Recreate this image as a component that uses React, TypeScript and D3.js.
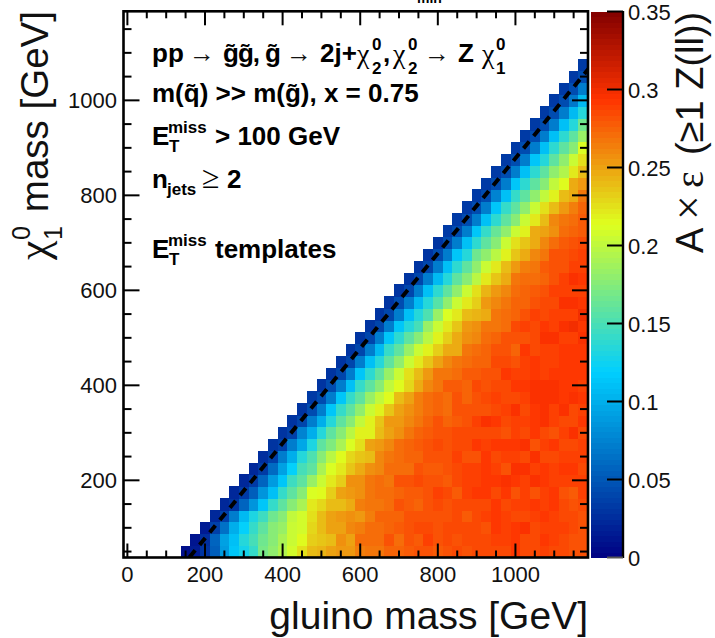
import React from "react";
import * as d3 from "d3";

// Acceptance x efficiency per chi mass row; each row starts on the diagonal and runs to gluino mass 1175.
const row00 = [8,15,28,55,88,112,128,142,168,180,195,208,225,240,242,250,252,255,265,268,268,273,276,279,280,280,279,280,284,280,285,286,286,286,291,285,286,288,285,286,283,282];
const row01 = [12,25,58,92,110,135,150,165,178,190,205,215,232,236,240,258,250,270,270,270,280,270,283,279,287,282,284,282,285,286,286,288,288,291,286,286,291,287,285,283,283];
const row02 = [15,38,65,98,120,142,160,175,185,205,208,228,240,250,250,262,265,272,270,273,279,280,286,285,282,284,286,286,285,282,291,287,293,294,286,288,289,287,285,282];
const row03 = [22,35,72,105,130,145,165,178,200,208,225,238,250,252,258,255,263,274,274,276,280,280,282,282,282,285,279,286,287,291,287,286,286,287,291,287,286,284,283];
const row04 = [22,30,58,85,115,140,160,175,190,222,228,240,240,245,263,268,268,270,283,278,276,283,285,283,285,285,285,286,291,286,287,287,291,288,291,286,282,285];
const row05 = [22,32,55,85,110,140,158,175,210,215,232,250,252,258,266,270,270,276,278,278,282,289,285,279,288,292,292,286,292,282,288,283,288,291,280,279,287];
const row06 = [22,32,58,90,115,145,160,185,205,222,232,256,256,268,272,268,280,280,286,283,280,279,286,289,287,293,293,294,291,288,294,291,287,287,287,287];
const row07 = [24,33,62,92,120,150,160,190,212,222,235,248,256,262,270,272,272,283,279,279,281,285,288,287,291,289,283,294,294,287,292,288,291,293,286];
const row08 = [26,35,70,98,135,152,175,198,215,230,235,240,260,266,270,274,276,282,282,281,287,282,281,291,286,287,289,286,294,286,286,287,287,287];
const row09 = [28,38,72,95,130,160,172,192,212,226,250,255,262,272,276,279,281,286,282,285,285,291,288,292,291,291,295,283,289,292,286,286,288];
const row10 = [28,38,75,100,135,158,175,198,218,220,240,250,258,268,274,279,283,280,284,285,285,285,286,280,289,284,292,285,282,289,294,286];
const row11 = [30,40,70,100,135,160,178,200,220,236,252,255,262,266,276,280,276,278,283,288,294,292,286,287,288,291,295,287,286,286,292];
const row12 = [30,42,72,115,140,160,180,205,218,235,250,258,265,272,274,270,280,283,283,282,285,288,296,286,291,294,288,296,286,288];
const row13 = [32,42,72,112,140,158,182,202,215,238,250,265,270,274,272,280,274,283,286,288,286,286,289,294,294,294,291,295,292];
const row14 = [30,42,72,110,140,160,178,200,215,230,248,262,268,278,278,276,285,283,286,286,291,291,294,296,296,292,291,289];
const row15 = [30,40,70,112,138,160,182,205,225,238,252,266,268,271,278,278,282,282,291,288,289,293,288,291,292,291,291];
const row16 = [30,40,72,110,135,160,180,205,222,235,250,262,266,270,276,276,286,286,280,289,293,287,289,291,292,292];
const row17 = [30,40,70,108,140,158,182,205,218,232,245,248,266,270,276,280,283,276,291,285,288,289,291,292,292];
const row18 = [30,40,72,112,138,158,178,198,220,232,248,258,260,272,273,281,283,283,285,295,295,289,289,295];
const row19 = [30,40,72,112,135,150,182,205,222,235,252,256,268,268,272,285,289,286,291,287,295,298,292];
const row20 = [30,40,72,110,135,152,185,210,222,240,243,248,268,272,276,280,288,286,287,287,288,298];
const row21 = [30,42,72,108,135,155,180,205,222,232,252,262,268,274,276,282,286,286,295,295,293];
const row22 = [30,40,72,110,138,160,180,205,225,242,252,262,270,273,278,283,287,287,288,289];
const row23 = [30,40,72,108,135,160,178,198,222,235,248,268,270,271,276,280,288,294,293];
const row24 = [30,40,72,110,138,160,180,205,222,238,255,265,268,279,282,283,287,289];
const row25 = [30,42,72,112,135,165,180,198,220,235,245,262,268,280,283,286,288];
const row26 = [30,42,72,110,138,160,178,203,225,235,245,262,272,279,283,285];
const row27 = [32,42,72,112,140,162,180,205,218,245,250,258,272,276,279];
const row28 = [32,42,72,110,138,160,178,205,222,238,262,268,272,279];
const row29 = [32,42,72,112,140,160,180,205,225,240,255,265,276];
const row30 = [32,42,75,110,140,158,180,200,220,238,248,268];
const row31 = [32,42,72,112,138,158,178,200,215,245,252];
const row32 = [32,42,72,110,138,158,180,195,222,240];
const row33 = [32,42,72,112,135,160,180,205,225];
const row34 = [32,42,72,110,138,158,178,210];
const row35 = [32,42,72,110,138,160,185];
const row36 = [32,42,72,110,135,165];
const row37 = [32,42,72,105,135];
const row38 = [32,42,68,105];
const row39 = [32,42,70];
const row40 = [32,42];
const row41 = [32];
const efficiencyRows = [row00,row01,row02,row03,row04,row05,row06,row07,row08,row09,row10,row11,row12,row13,row14,row15,row16,row17,row18,row19,row20,row21,row22,row23,row24,row25,row26,row27,row28,row29,row30,row31,row32,row33,row34,row35,row36,row37,row38,row39,row40,row41];

const xTickLabels = [0, 200, 400, 600, 800, 1000];
const yTickLabels = [200, 400, 600, 800, 1000];
const zTickLabels = ["0", "0.05", "0.1", "0.15", "0.2", "0.25", "0.3", "0.35"];
const dashedLineMg = [160, 1190];
const dashedLineLsp = [38, 1068];
const paletteStops = [0, 0.34, 0.61, 0.84, 1];
const paletteColors = ["rgb(0,0,130)", "rgb(0,207,255)", "rgb(222,255,31)", "rgb(255,51,0)", "rgb(130,0,0)"];

const FONT = "'Liberation Sans', Arial, sans-serif";
const SERIF = "'Liberation Serif', serif";
const L = 123.5, R = 588, T = 11.3, B = 557.5;
const x = d3.scaleLinear().domain([-10, 1187]).range([L, R]);
const y = d3.scaleLinear().domain([37.5, 1187.5]).range([B, T]);
const z = d3.scaleLinear().domain([0, 0.35]).range([557.5, 11.5]);
const palette = d3.scaleLinear<string>().domain(paletteStops).range(paletteColors).interpolate(d3.interpolateRgb.gamma(1)).clamp(true);
const LEVELS = 100;
const colour = (v: number) => palette((Math.floor(Math.min(v / 0.35, 0.9999) * LEVELS) + 0.5) / LEVELS);

const dashed = d3.line<number>().x((m) => x(m)).y((_, i) => y(dashedLineLsp[i]));

const Bold: React.FC<{ x: number; y: number; s?: number; ls?: number; children: React.ReactNode }> = ({ x, y, s = 26, ls, children }) => (
  <text x={x} y={y} fontSize={s} fontWeight="bold" fontFamily={FONT} fill="#000" letterSpacing={ls}>{children}</text>
);
const Sym: React.FC<{ x: number; y: number; s?: number; children: React.ReactNode }> = ({ x, y, s = 26, children }) => (
  <text x={x} y={y} fontSize={s} fontFamily={SERIF} fill="#000">{children}</text>
);
const Arrow: React.FC<{ x: number; y: number }> = ({ x, y }) => (
  <text x={x} y={y} fontSize={26} fontFamily={FONT} fill="#111" textLength={26} lengthAdjust="spacingAndGlyphs">→</text>
);
const Chi: React.FC<{ x: number; dx: number; y: number; sub: string }> = ({ x, dx, y, sub }) => (
  <g>
    <Sym x={x} y={y} s={28}>χ</Sym>
    <Bold x={x + dx} y={y - 13} s={17}>0</Bold>
    <Bold x={x + dx} y={y + 11} s={17}>{sub}</Bold>
  </g>
);
const MET: React.FC<{ y: number }> = ({ y }) => (
  <g>
    <Bold x={152} y={y}>E</Bold>
    <Bold x={168} y={y - 12} s={17}>miss</Bold>
    <Bold x={169} y={y + 7} s={17}>T</Bold>
  </g>
);

export default function App() {
  const yMinor = d3.range(50, 1151, 50);
  const xMinor = d3.range(0, 1151, 50);
  return (
    <svg width={715} height={638} style={{ position: "absolute", left: 0, top: 0, display: "block", background: "#fff" }}>
      <defs>
        <clipPath id="frame"><rect x={L} y={T} width={R - L} height={B - T} /></clipPath>
      </defs>
      <g shapeRendering="crispEdges" clipPath="url(#frame)">
        {efficiencyRows.map((row, r) =>
          row.map((v, j) => {
            const mg = 150 + 25 * (r + j);
            const lsp = 50 + 25 * r;
            return (
              <rect key={r + "-" + j} x={x(mg - 12.5)} y={y(lsp + 12.5)} width={x(mg + 12.5) - x(mg - 12.5) + 0.5}
                height={y(lsp - 12.5) - y(lsp + 12.5) + 0.5} fill={colour(v / 1000)} />
            );
          })
        )}
      </g>
      <path d={dashed(dashedLineMg) ?? ""} fill="none" stroke="#000" strokeWidth={4} strokeDasharray="9 7" clipPath="url(#frame)" />

      {/* colour bar */}
      <g shapeRendering="crispEdges">
        {d3.range(LEVELS).map((i) => {
          const lo = (i / LEVELS) * 0.35, hi = ((i + 1) / LEVELS) * 0.35;
          return <rect key={i} x={591} y={z(hi)} width={31.5} height={z(lo) - z(hi) + 0.5} fill={palette((i + 0.5) / LEVELS)} />;
        })}
      </g>
      <line x1={623} x2={623} y1={11} y2={558} stroke="#000" strokeWidth={2.4} />
      {zTickLabels.map((t) => (
        <g key={t}>
          <line x1={607} x2={623} y1={z(+t)} y2={z(+t)} stroke={+t === 0 ? "#555" : "#000"} strokeWidth={2} />
          <text x={628} y={z(+t) + 8.5} fontSize={22} fontFamily={FONT} fill="#111">{t}</text>
        </g>
      ))}

      {/* frame and ticks */}
      <rect x={L} y={T} width={R - L} height={B - T} fill="none" stroke="#000" strokeWidth={2.6} />
      {xMinor.map((m) => {
        const major = m % 200 === 0;
        const h = major ? 14 : 7;
        return (
          <g key={m} stroke="#000" strokeWidth={2}>
            <line x1={x(m)} x2={x(m)} y1={B} y2={B - h} />
            <line x1={x(m)} x2={x(m)} y1={T} y2={T + h} />
          </g>
        );
      })}
      {yMinor.map((m) => {
        const major = m % 200 === 0;
        const w = major ? 16 : 8;
        return (
          <g key={m} stroke="#000" strokeWidth={2}>
            <line x1={L} x2={L + w} y1={y(m)} y2={y(m)} />
            <line x1={R} x2={R - w} y1={y(m)} y2={y(m)} />
          </g>
        );
      })}
      {xTickLabels.map((t) => (
        <text key={t} x={x(t)} y={582} textAnchor="middle" fontSize={22} fontFamily={FONT} fill="#111">{t}</text>
      ))}
      {yTickLabels.map((t) => (
        <text key={t} x={117} y={y(t) + 8} textAnchor="end" fontSize={22} fontFamily={FONT} fill="#111">{t}</text>
      ))}

      {/* axis titles */}
      <text x={588} y={629} textAnchor="end" fontSize={39} fontFamily={FONT} fill="#111">gluino mass [GeV]</text>
      <g transform="translate(48,0) rotate(-90)" fill="#111">
        <text x={-260} y={0} fontSize={44} fontFamily={SERIF}>χ</text>
        <text x={-240} y={-18} fontSize={25} fontFamily={FONT}>0</text>
        <text x={-240} y={14} fontSize={25} fontFamily={FONT}>1</text>
        <text x={-11} y={0} textAnchor="end" fontSize={38.5} fontFamily={FONT}>mass [GeV]</text>
      </g>
      <g transform="translate(703,0) rotate(-90)" fill="#111">
        <text x={-253} y={0} fontSize={38} fontFamily={FONT}>A</text>
        <text x={-220} y={0} fontSize={44} fontFamily={SERIF}>×</text>
        <text x={-188} y={0} fontSize={40} fontFamily={SERIF}>ε</text>
        <text x={-155} y={0} fontSize={38} fontFamily={FONT}>(≥1 Z(ll))</text>
      </g>

      {/* annotations */}
      <text x={417} y={3} fontSize={14} fontWeight="bold" fontFamily={FONT}>min</text>
      <Bold x={152} y={62}>pp</Bold>
      <Arrow x={189} y={62} />
      <Bold x={223} y={62} ls={-1}>g̃g̃,</Bold>
      <Bold x={265} y={62}>g̃</Bold>
      <Arrow x={286} y={62} />
      <Bold x={320} y={62}>2j+</Bold>
      <Chi x={357} dx={15} y={63} sub="2" />
      <Bold x={383} y={62}>,</Bold>
      <Chi x={393} dx={15} y={63} sub="2" />
      <Arrow x={424} y={62} />
      <Bold x={458} y={62}>Z</Bold>
      <Chi x={482} dx={14} y={63} sub="1" />
      <Bold x={152} y={102}>m(q̃) &gt;&gt; m(g̃), x = 0.75</Bold>
      <MET y={145} />
      <Bold x={215} y={145}>&gt; 100 GeV</Bold>
      <Bold x={152} y={188}>n</Bold>
      <Bold x={167} y={195} s={17}>jets</Bold>
      <text x={202} y={188} fontSize={32} fontFamily={SERIF} fill="#000">≥</text>
      <Bold x={227} y={188}>2</Bold>
      <MET y={258} />
      <Bold x={215} y={258}>templates</Bold>
    </svg>
  );
}
